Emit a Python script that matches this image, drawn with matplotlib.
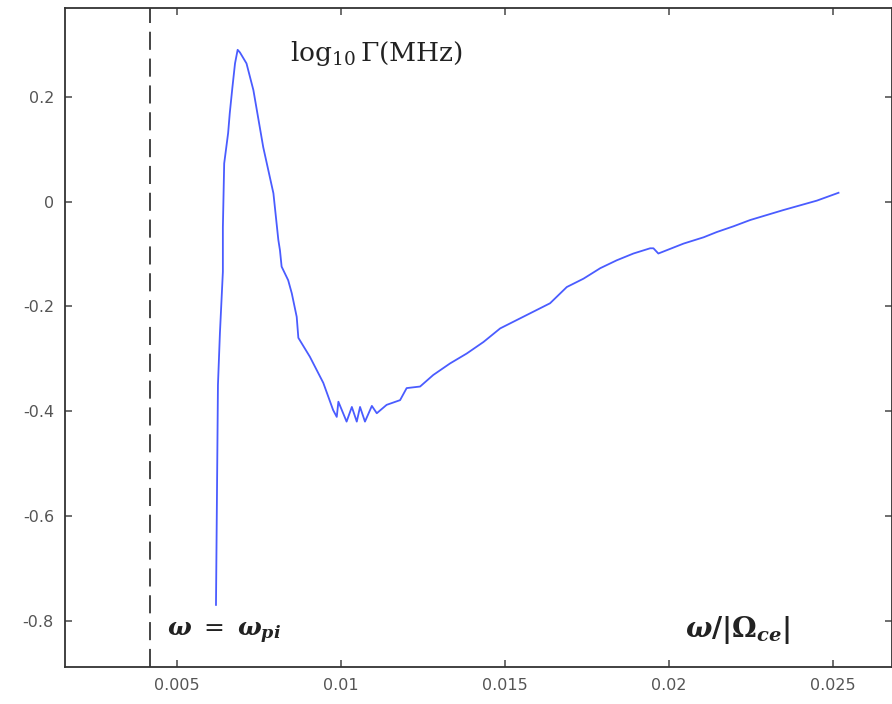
import matplotlib
matplotlib.use("Agg")
import matplotlib.pyplot as plt

plt.rcParams['mathtext.fontset'] = 'custom'
plt.rcParams['mathtext.rm'] = 'DejaVu Serif'
plt.rcParams['mathtext.it'] = 'DejaVu Serif:italic:bold'
plt.rcParams['mathtext.bf'] = 'DejaVu Serif:bold'

# growth-rate curve: omega/|Omega_ce| vs log10 Gamma (MHz)
freq = [0.00620, 0.00626, 0.00632, 0.00641, 0.00641, 0.00645, 0.00657, 0.00662,
        0.00670, 0.00678, 0.00686, 0.00693, 0.00713, 0.00734, 0.00764, 0.00795,
        0.00810, 0.00815, 0.00820, 0.00840, 0.00851, 0.00866, 0.00871, 0.00906,
        0.00947, 0.00977, 0.00988, 0.00993, 0.01018, 0.01034, 0.01049, 0.01059,
        0.01074, 0.01095, 0.01110, 0.01140, 0.01181, 0.01201, 0.01242, 0.01282,
        0.01333, 0.01384, 0.01435, 0.01486, 0.01638, 0.01689, 0.01740, 0.01791,
        0.01841, 0.01892, 0.01943, 0.01953, 0.01968, 0.02045, 0.02106, 0.02146,
        0.02197, 0.02248, 0.02349, 0.02451, 0.02517]
log_gamma = [-0.770, -0.350, -0.251, -0.134, -0.049, 0.073, 0.131, 0.169,
             0.218, 0.264, 0.290, 0.285, 0.264, 0.213, 0.104, 0.016,
             -0.073, -0.093, -0.124, -0.150, -0.175, -0.220, -0.260, -0.296,
             -0.346, -0.398, -0.411, -0.382, -0.420, -0.392, -0.420, -0.392,
             -0.420, -0.390, -0.404, -0.388, -0.379, -0.356, -0.353, -0.331,
             -0.309, -0.290, -0.268, -0.242, -0.194, -0.163, -0.147, -0.127,
             -0.112, -0.099, -0.089, -0.089, -0.099, -0.080, -0.068, -0.058,
             -0.047, -0.035, -0.016, 0.002, 0.017]

omega_pi = 0.00419

xticks = [0.005, 0.01, 0.015, 0.02, 0.025]
xtick_labels = ['0.005', '0.01', '0.015', '0.02', '0.025']
yticks = [-0.8, -0.6, -0.4, -0.2, 0.0, 0.2]
ytick_labels = ['-0.8', '-0.6', '-0.4', '-0.2', '0', '0.2']

fig = plt.figure(figsize=(8.92, 7.04), dpi=100)
ax = fig.add_axes([0.0729, 0.053, 0.9271, 0.935])

ax.plot(freq, log_gamma, color='#4a5cff', lw=1.3)
ax.axvline(omega_pi, color='#444444', lw=1.4, dashes=(9.3, 4.5))

ax.set_xlim(0.0016, 0.0268)
ax.set_ylim(-0.888, 0.369)
ax.set_xticks(xticks)
ax.set_xticklabels(xtick_labels)
ax.set_yticks(yticks)
ax.set_yticklabels(ytick_labels)
ax.tick_params(direction='in', length=5, width=1.2, colors='#555555',
               labelcolor='#555555', labelsize=11.5, top=True, right=True,
               pad=8)
for s in ax.spines.values():
    s.set_color('#333333')
    s.set_linewidth(1.3)

ax.text(0.00845, 0.283, r'$\mathrm{log}_{10}\,\Gamma(\mathrm{MHz})$',
        fontsize=19, color='#222222', va='center', ha='left')
ax.text(0.0047, -0.825, r'$\omega\;=\;\omega_{pi}$',
        fontsize=18, color='#222222', va='center', ha='left')
ax.text(0.02050, -0.817, r'$\mathit{\omega}\mathbf{/|\Omega}_{ce}\mathbf{|}$',
        fontsize=20, color='#222222', va='center', ha='left')

fig.savefig('out.png', dpi=100)
